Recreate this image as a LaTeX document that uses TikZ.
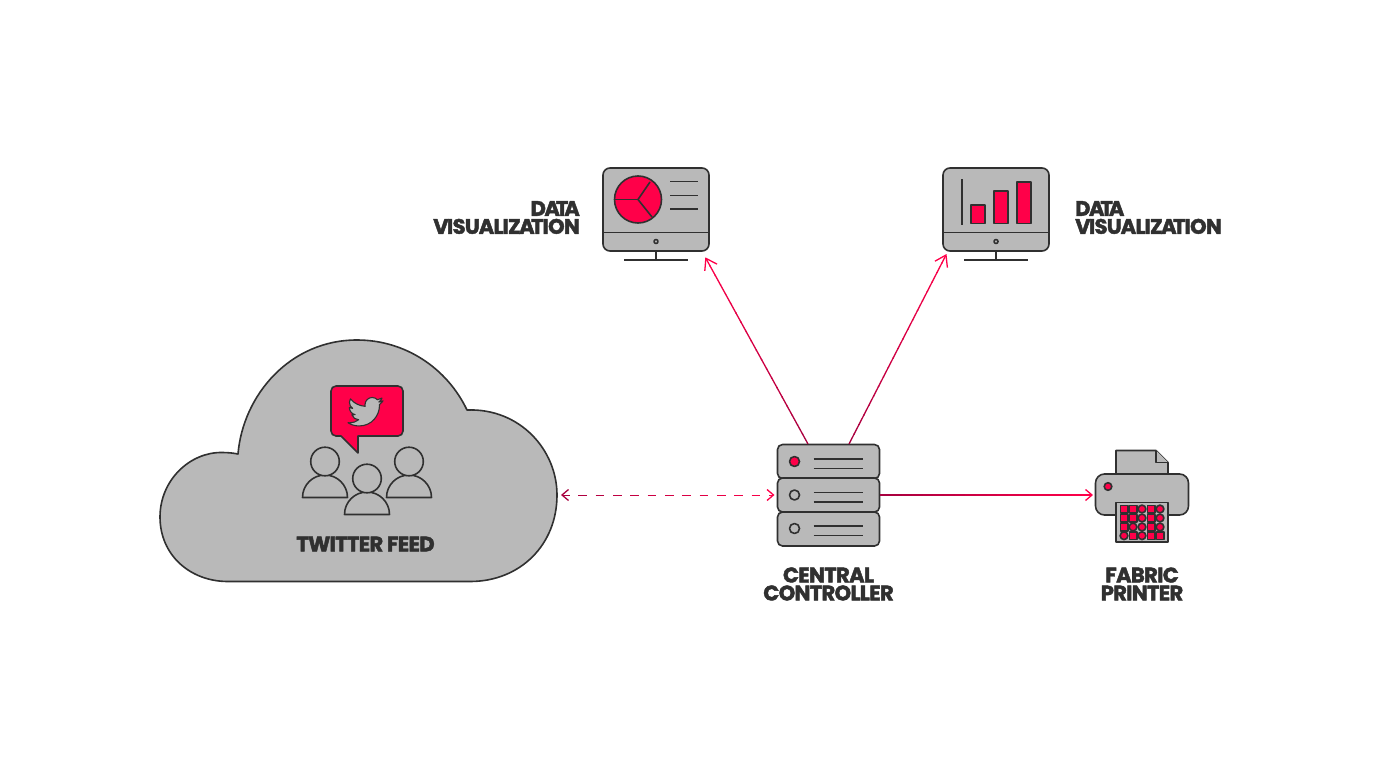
\documentclass[tikz,border=0pt]{standalone}
\usepackage{fontspec}
\usetikzlibrary{arrows.meta,calc}
\newfontfamily\lab[LetterSpace=-3,FakeBold=2.2]{Poppins Bold}
\definecolor{ink}{HTML}{303030}
\definecolor{fillg}{HTML}{B9B9B9}
\definecolor{hot}{HTML}{FF0049}
\definecolor{deep}{HTML}{A8003F}
\tikzset{
 shape line/.style={draw=ink,line width=1.6pt,fill=fillg,line join=round},
 hot shape/.style={draw=ink,line width=1.6pt,fill=hot,line join=round},
 rule line/.style={draw=ink,line width=1.6pt},
 label text/.style={font=\lab\fontsize{21}{18}\selectfont,text=ink,inner sep=0pt,align=center},
 wire line/.style={line width=1.3pt},
 dash line/.style={line width=.95pt},
 big head/.style={-{Straight Barb[length=10.5pt,width=14pt,line width=1.3pt]}},
 small head/.style={-{Straight Barb[length=6.5pt,width=11pt,line width=1.3pt]}},
 small tail/.style={{Straight Barb[length=6.5pt,width=11pt,line width=1.3pt]}-},
 box/.style={shape line,rounded corners=5pt,inner sep=0pt},
}
\newcommand{\personicon}[2]{%
 \draw[shape line] (#1-22.5,#2+36) arc[start angle=180,end angle=360,radius=22.5] -- cycle;
 \draw[shape line] (#1,#2) circle[radius=14.3];
}
\newcommand{\screen}[1]{%
 \draw[shape line,rounded corners=7pt] (#1,168) rectangle (#1+106,251);
 \draw[rule line] (#1,232.5) -- (#1+106,232.5);
 \draw[shape line] (#1+53,241.5) circle[radius=2];
 \draw[rule line] (#1+53,251) -- (#1+53,260);
 \draw[rule line] (#1+21,260) -- (#1+85,260);
}
% solid connector whose colour runs from deep at the start to hot at the tip
\newcommand{\fadewire}[3]{%
 \foreach \i [evaluate=\i as \p using int(\i*100/19), evaluate=\i as \q using (\i+1.1)/20, evaluate=\i as \r using \i/20] in {0,...,18}
  \draw[wire line,color=hot!\p!deep] ($(#1)!\r!(#2)$) -- ($(#1)!\q!(#2)$);
 \draw[wire line,#3,color=hot] ($(#1)!0.95!(#2)$) -- (#2);
}
% dashed connector, deep to hot, arrow tips at both ends
\newcommand{\fadedash}[2]{%
 \draw[dash line,small tail,color=deep] (#1) -- ($(#1)!0.04!(#2)$);
 \foreach \i [evaluate=\i as \p using int(\i*100/12), evaluate=\i as \r using \i*0.0812, evaluate=\i as \q using \i*0.0812+0.04] in {1,...,11}
  \draw[dash line,color=hot!\p!deep] ($(#1)!\r!(#2)$) -- ($(#1)!\q!(#2)$);
 \draw[dash line,small head,color=hot] ($(#1)!0.9744!(#2)$) -- (#2);
}
\newcommand{\sq}[2]{\draw[hot shape] (#1-3.7,#2-3.7) rectangle (#1+3.7,#2+3.7);}
\newcommand{\rd}[2]{\draw[hot shape] (#1,#2) circle[radius=3.9];}
\newcommand{\dataword}{D\kern-1.5ptA\kern-4ptT\kern-4ptA}
\newcommand{\visword}{V\kern-1.5ptISU\kern-1ptAL\kern-1ptIZ\kern-1.5ptA\kern-3.5ptT\kern-1ptION}
\begin{document}
\begin{tikzpicture}[x=1pt,y=-1pt]
\useasboundingbox (0,0) rectangle (1380,776);
% cloud
\draw[shape line] (228,581.5) .. controls (190,581.5) and (160,555) .. (160,517)
 .. controls (160,480) and (190,452) .. (222,452.5) .. controls (228,452.5) and (233,453) .. (238,454)
 .. controls (243,395) and (290,340) .. (357,340) .. controls (405,340) and (447,368) .. (467,410)
 .. controls (520,408) and (557,450) .. (557,495) .. controls (557,545) and (520,581.5) .. (470,581.5) -- cycle;
% speech bubble
\draw[hot shape] (336,386) -- (398,386) arc[start angle=-90,end angle=0,radius=5] -- (403,431) arc[start angle=0,end angle=90,radius=5] -- (358,436) -- (358,453) -- (341,436) -- (336,436) arc[start angle=90,end angle=180,radius=5] -- (331,391) arc[start angle=180,end angle=270,radius=5] -- cycle;
\begin{scope}[shift={(348,394.2)},x=1.46pt,y=-1.46pt]
\draw[shape line,line width=1.1pt] (23.953,4.57) .. controls (23.07,4.96) and (22.13,5.22) .. (21.128,5.345)
.. controls (22.144,4.734) and (22.924,3.772) .. (23.291,2.622)
.. controls (22.34,3.177) and (21.286,3.581) .. (20.164,3.806)
.. controls (19.27,2.85) and (18.0,2.25) .. (16.57,2.25)
.. controls (13.85,2.25) and (11.65,4.45) .. (11.65,7.17)
.. controls (11.65,7.56) and (11.69,7.93) .. (11.78,8.288)
.. controls (7.69,8.095) and (4.067,6.13) .. (1.64,3.162)
.. controls (1.22,3.89) and (0.974,4.73) .. (0.974,5.637)
.. controls (0.974,7.347) and (1.844,8.85) .. (3.162,9.733)
.. controls (2.357,9.707) and (1.6,9.486) .. (0.934,9.117)
-- (0.934,9.177)
.. controls (0.934,11.56) and (2.63,13.55) .. (4.88,14.004)
.. controls (4.17,14.2) and (3.4,14.23) .. (2.668,14.089)
.. controls (3.3,16.05) and (5.12,17.46) .. (7.272,17.506)
.. controls (5.58,18.83) and (3.46,19.611) .. (1.17,19.611)
.. controls (0.78,19.611) and (0.391,19.588) .. (0,19.544)
.. controls (2.18,20.94) and (4.77,21.753) .. (7.557,21.753)
.. controls (16.61,21.753) and (21.555,14.257) .. (21.555,7.768)
.. controls (21.555,7.558) and (21.555,7.348) .. (21.54,7.138)
.. controls (22.5,6.445) and (23.34,5.58) .. (24,4.59) -- cycle;
\end{scope}
\personicon{325}{461.5}
\personicon{409}{461.5}
\personicon{367}{478.5}
\node[label text] (feed) at (365.5,544) {TWITTER\ FEED};
% monitors
\screen{603}
\draw[hot shape] (638,199.5) circle[radius=23.5];
\draw[rule line] (638,199.5) -- (615,199.5);
\draw[rule line] (638,199.5) -- (650,182);
\draw[rule line] (638,199.5) -- (652,217);
\draw[rule line] (670,181.5) -- (698,181.5);
\draw[rule line] (670,195.5) -- (698,195.5);
\draw[rule line] (670,209) -- (698,209);
\screen{943}
\draw[rule line] (962,179) -- (962,225);
\draw[hot shape] (971,205) rectangle (985,223.5);
\draw[hot shape] (994,191) rectangle (1008,223.5);
\draw[hot shape] (1017,182) rectangle (1031,223.5);
\node[label text,align=right,anchor=east] (vizl) at (580,217.5) {\dataword\\\visword};
\node[label text,align=left,anchor=west] (vizr) at (1075,217.5) {\dataword\\\visword};
% server
\node[box,minimum width=102pt,minimum height=34pt] (srvtop) at (828.5,461.5) {};
\node[box,minimum width=102pt,minimum height=34pt] (srvmid) at (828.5,495) {};
\node[box,minimum width=102pt,minimum height=34pt] (srvbot) at (828.5,529) {};
\draw[hot shape] (794.5,461.5) circle[radius=5];
\draw[shape line] (794.5,495) circle[radius=5];
\draw[shape line] (794.5,528.5) circle[radius=5];
\foreach \yy in {459,468.5,492.5,502,526,535.5} \draw[rule line] (813.5,\yy) -- (862.5,\yy);
\node[label text] (ctrl) at (828.5,584) {CENTRAL\\CONTROLLER};
% printer
\draw[shape line] (1116,475) -- (1116,450.5) -- (1156,450.5) -- (1168,462.5) -- (1168,475);
\draw[shape line] (1156,450.5) -- (1156,462.5) -- (1168,462.5);
\node[box,rounded corners=9pt,minimum width=93pt,minimum height=41pt] (prn) at (1142,494.5) {};
\draw[hot shape] (1108,486.5) circle[radius=3.8];
\draw[shape line] (1116,502.5) rectangle (1168,542);
\sq{1124}{509}\sq{1133}{509}\rd{1142}{509}\sq{1151}{509}\rd{1160}{509}
\sq{1124}{518}\sq{1133}{518}\rd{1142}{518}\sq{1151}{518}\rd{1160}{518}
\sq{1124}{527}\rd{1133}{527}\rd{1142}{527}\sq{1151}{527}\rd{1160}{527}
\rd{1124}{535.7}\sq{1133}{535.7}\rd{1142}{535.7}\sq{1151}{535.7}\sq{1160}{535.7}
\node[label text] (fab) at (1142,584) {FABRIC\\PRINTER};
% connectors
\coordinate (cloudport) at (561,495);
\coordinate (screenl) at (705.3,257.3);
\coordinate (screenr) at (946.5,254);
\coordinate (srvfromL) at (808,444);
\coordinate (srvfromR) at (849,444);
\coordinate (srvin) at (774.5,495);
\coordinate (prnin) at (1093,495);
\fadedash{cloudport}{srvin}
\fadewire{srvfromL}{screenl}{big head}
\fadewire{srvfromR}{screenr}{big head}
\fadewire{srvmid.east}{prnin}{small head}
\end{tikzpicture}
\end{document}
